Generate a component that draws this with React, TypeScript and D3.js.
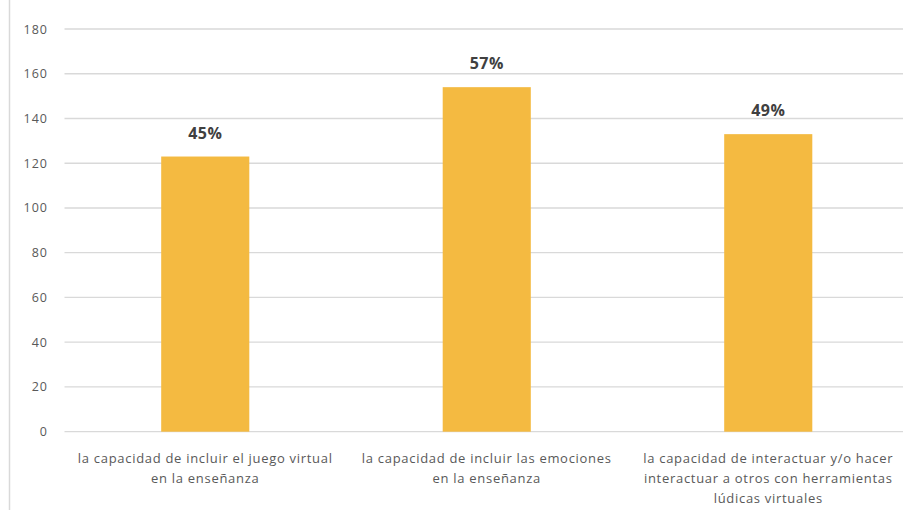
import React from "react";
import * as d3 from "d3";

const categories: string[][] = [
  ["la capacidad de incluir el juego virtual", "en la enseñanza"],
  ["la capacidad de incluir las emociones", "en la enseñanza"],
  ["la capacidad de interactuar y/o hacer", "interactuar a otros con herramientas", "lúdicas virtuales"],
];
const values: number[] = [123, 154, 133];
const percentLabels: string[] = ["45%", "57%", "49%"];
const yTicks: number[] = [0, 20, 40, 60, 80, 100, 120, 140, 160, 180];

const W = 903;
const H = 510;
const margin = { left: 64.5, right: -6, top: 29, bottom: 78 };

export default function App() {
  const x = d3
    .scaleBand<number>()
    .domain(values.map((_, i) => i))
    .range([margin.left, W - margin.right])
    .paddingInner(0.687)
    .paddingOuter(0.3435);
  const y = d3.scaleLinear().domain([0, 180]).range([H - margin.bottom - 0.3, margin.top]);
  const font = "'Open Sans', Lato, sans-serif";
  return (
    <svg
      width={W}
      height={H}
      style={{ position: "absolute", left: 0, top: 0, background: "#fff" }}
      fontFamily={font}
    >
      <line x1={9.5} x2={9.5} y1={0} y2={H} stroke="#d9d9d9" strokeWidth={1.5} />
      {yTicks.map((t) => (
        <g key={t}>
          <line x1={margin.left} x2={W} y1={y(t)} y2={y(t)} stroke="#d9d9d9" strokeWidth={1.3} />
          <text x={48} y={y(t) + 4.5} textAnchor="end" fontSize={12.5} fill="#595959" letterSpacing={1}>
            {t}
          </text>
        </g>
      ))}
      {values.map((v, i) => (
        <g key={i}>
          <rect x={x(i)} y={y(v)} width={x.bandwidth()} height={y(0) - y(v)} fill="#f4ba41" />
          <text
            x={(x(i) as number) + x.bandwidth() / 2}
            y={y(v) - 18}
            textAnchor="middle"
            fontSize={16}
            fontWeight="bold"
            fill="#404040"
            letterSpacing={0.5}
          >
            {percentLabels[i]}
          </text>
          {categories[i].map((line, j) => (
            <text
              key={j}
              x={(x(i) as number) + x.bandwidth() / 2}
              y={462.5 + j * 20.3}
              textAnchor="middle"
              fontSize={13}
              fill="#595959"
              letterSpacing={0.7}
            >
              {line}
            </text>
          ))}
        </g>
      ))}
    </svg>
  );
}
